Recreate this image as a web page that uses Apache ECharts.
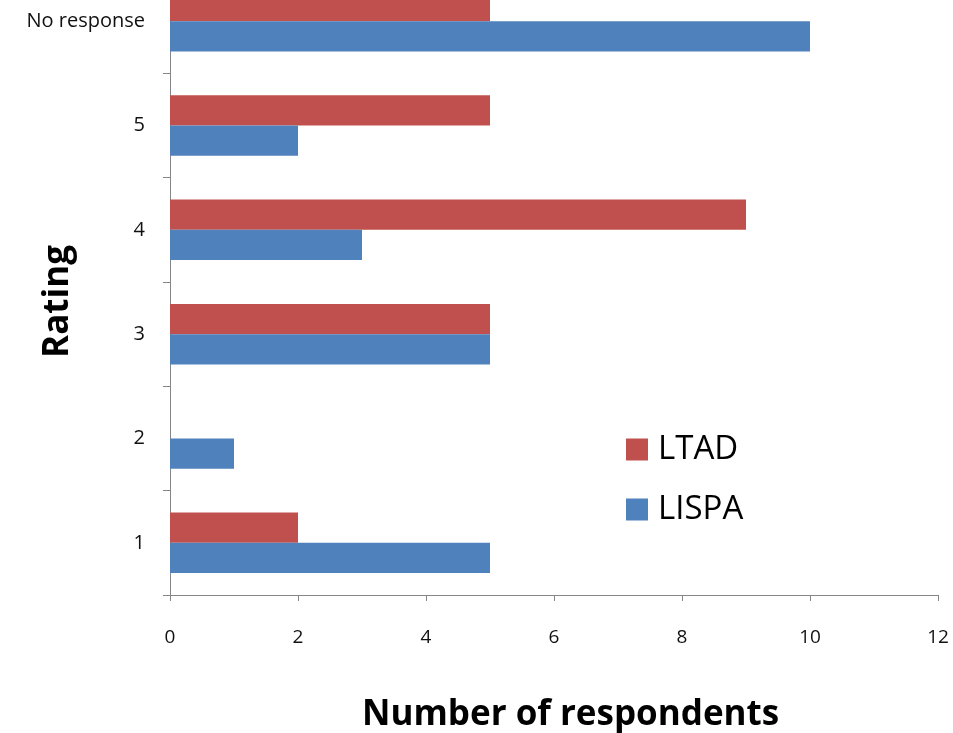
<!DOCTYPE html>
<html>
<head>
<meta charset="utf-8">
<script src="https://cdn.jsdelivr.net/npm/echarts@6/dist/echarts.min.js"></script>
<style>
  html, body { margin: 0; padding: 0; background: #fff; overflow: hidden; }
  body { position: relative; width: 953px; height: 733px; }
  /* the plot area continues a little above the top edge of the page */
  #chart { position: absolute; left: 0; top: -31px; width: 953px; height: 764px; }
</style>
</head>
<body>
<div id="chart"></div>
<script>
// Ratings, bottom to top
const ratings = ['1', '2', '3', '4', '5', 'No response'];
const ltad = [2, 0, 5, 9, 5, 5];
const lispa = [5, 1, 5, 3, 2, 10];
const xTicks = [0, 2, 4, 6, 8, 10, 12];

const font = '"Open Sans", "Noto Sans", sans-serif';
const axisGray = '#868686';
const shift = 31;

const chart = echarts.init(document.getElementById('chart'));
chart.setOption({
  animation: false,
  grid: { left: 170, right: 15, top: 0, bottom: 138, containLabel: false },
  legend: {
    orient: 'vertical',
    left: 621,
    top: 428 + shift,
    itemWidth: 22,
    itemHeight: 22,
    itemGap: 27,
    icon: 'rect',
    data: ['LTAD', 'LISPA'],
    textStyle: { fontFamily: font, fontSize: 33, color: '#000', padding: [0, 0, 0, 5] }
  },
  xAxis: {
    type: 'value',
    min: xTicks[0],
    max: xTicks[xTicks.length - 1],
    interval: 2,
    splitLine: { show: false },
    axisLine: { show: true, lineStyle: { color: axisGray } },
    axisTick: { show: true, length: 6, lineStyle: { color: axisGray } },
    axisLabel: { margin: 33, fontFamily: font, fontSize: 19, color: '#111' }
  },
  yAxis: {
    type: 'category',
    data: ratings,
    axisLine: { show: true, lineStyle: { color: axisGray } },
    axisTick: { show: true, length: 7, lineStyle: { color: axisGray } },
    axisLabel: { margin: 25, fontFamily: font, fontSize: 20, color: '#111' }
  },
  series: [
    {
      name: 'LTAD', type: 'bar', data: ltad,
      barGap: '0%', barCategoryGap: '42%',
      itemStyle: { color: '#C0504D' }
    },
    {
      name: 'LISPA', type: 'bar', data: lispa,
      barGap: '0%', barCategoryGap: '42%',
      itemStyle: { color: '#4F81BD' }
    }
  ],
  graphic: [
    {
      type: 'text', left: 41, top: 245 + shift, rotation: Math.PI / 2,
      style: { text: 'Rating', font: 'bold 35px ' + font, fill: '#000' }
    },
    {
      type: 'text', left: 362, top: 698 + shift,
      style: { text: 'Number of respondents', font: 'bold 35px ' + font, fill: '#000' }
    }
  ]
});
</script>
</body>
</html>
